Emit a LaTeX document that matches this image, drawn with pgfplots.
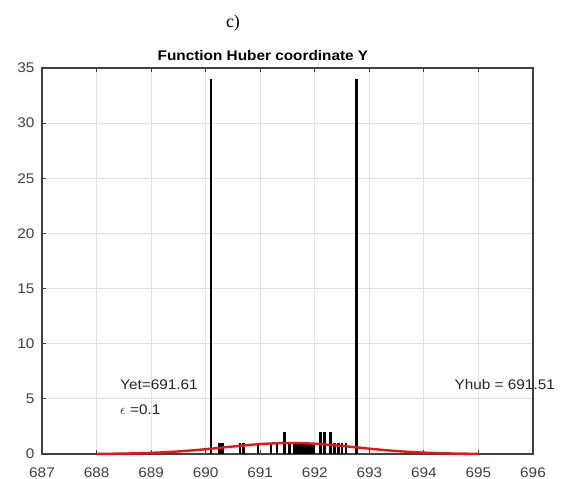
\documentclass[border=0pt]{standalone}
\usepackage{pgfplots}
\pgfplotsset{compat=1.18}
\usepackage{fontspec}
\setmainfont{Liberation Sans}[FakeStretch=1.1]
\newfontfamily\serif{Liberation Serif}

\definecolor{axgray}{RGB}{64,64,64}
\definecolor{gridgray}{RGB}{225,225,225}
\definecolor{curvered}{RGB}{235,20,20}

\begin{document}
\begin{tikzpicture}
\begin{axis}[
    at={(42bp,25bp)}, anchor=south west,
    scale only axis,
    width=491bp, height=386bp,
    xmin=687, xmax=696, ymin=0, ymax=35,
    xtick={687,...,696}, ytick={0,5,...,35},
    grid=major,
    major grid style={gridgray, line width=0.8pt},
    axis line style={axgray, line width=1.1pt},
    tick style={axgray, line width=0.8pt},
    tick align=inside,
    major tick length=4bp,
    xtick pos=both, ytick pos=left,
    ticklabel style={font=\fontsize{14}{16}\selectfont, text=axgray},
    xticklabel style={yshift=-10bp},
    yticklabel style={xshift=-4bp},
    /pgf/number format/assume math mode=true,
    /pgf/number format/1000 sep={},
    title={\textbf{Function Huber coordinate Y}},
    title style={font=\fontsize{14}{16}\selectfont, at={(0.45,1)}, anchor=south, yshift=-2bp},
    clip=false,
]
% histogram of observations
\addplot[ycomb, black, line width=2.6bp] coordinates {
    (690.10,34) (692.76,34)
    (690.25,1) (690.31,1)
    (690.63,1) (690.69,1)
    (690.96,1) (691.20,1) (691.31,1)
    (691.45,2) (691.54,1)
    (691.63,1) (691.68,1) (691.73,1) (691.78,1) (691.83,1)
    (691.88,1) (691.93,1) (691.98,1)
    (692.10,2) (692.18,2) (692.29,2)
    (692.36,1) (692.43,1) (692.50,1) (692.57,1)
};
% Huber weight curve
\addplot[curvered, line width=2.4bp, smooth] coordinates {
    (688.0,0.013) (688.5,0.040) (689.0,0.105) (689.5,0.233)
    (690.0,0.434) (690.5,0.682) (691.0,0.900) (691.5,0.999)
    (692.0,0.932) (692.5,0.731) (693.0,0.482) (693.5,0.267)
    (694.0,0.124) (694.5,0.049) (695.0,0.016)
};
\node[anchor=west, font=\fontsize{14}{16}\selectfont, text=black!85, inner sep=0pt]
    at (axis cs:688.43,6.3) {Yet=691.61};
\node[anchor=west, font=\fontsize{14}{16}\selectfont, text=black!85, inner sep=0pt]
    at (axis cs:688.43,4.0) {$\epsilon$ =0.1};
\node[anchor=west, font=\fontsize{14}{16}\selectfont, text=black!85, inner sep=0pt]
    at (axis cs:694.56,6.3) {Yhub = 691.51};
\end{axis}
\node[font=\serif\fontsize{18}{20}\selectfont, anchor=base] at (233bp,451bp) {c)};
\pgfresetboundingbox
\path[use as bounding box] (0,0) rectangle (571bp,479bp);
\end{tikzpicture}
\end{document}
